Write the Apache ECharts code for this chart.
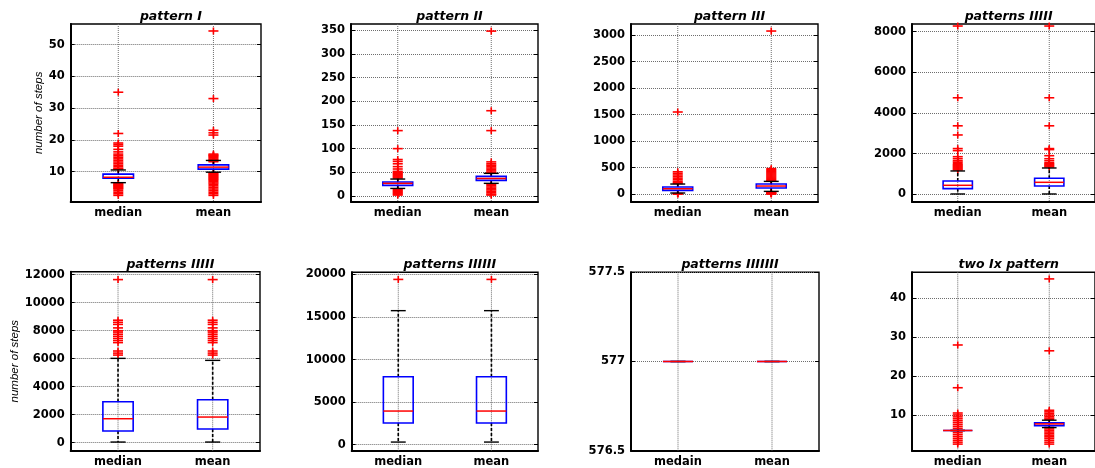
<!DOCTYPE html>
<html>
<head>
<meta charset="utf-8">
<script src="https://cdn.jsdelivr.net/npm/echarts@6/dist/echarts.min.js"></script>
<style>
  html, body { margin: 0; padding: 0; background: #ffffff; }
  #chart { width: 1095px; height: 468px; }
</style>
</head>
<body>
<div id="chart"></div>
<script>
// ---- panel titles and category names ----
const panelTitles = ['pattern I', 'pattern II', 'pattern III', 'patterns IIIII',
                     'patterns IIIII', 'patterns IIIIII', 'patterns IIIIIII', 'two Ix pattern'];
const categories = ['median', 'mean'];
const categoriesTypo = ['medain', 'mean'];

// ---- box statistics: [lower whisker, Q1, median, Q3, upper whisker] for median / mean ----
const boxP1 = [[6.5, 7.9, 8.2, 9.2, 10.5], [9.8, 10.75, 11.4, 12.1, 13.5]];
const boxP2 = [[16, 22.5, 26.7, 29.5, 35.8], [26.7, 33, 37, 41.5, 47.8]];
const boxP3 = [[19, 69, 100, 132, 189], [50, 113, 151, 189, 239]];
const boxP4 = [[16, 279, 443, 656, 1148], [16, 410, 590, 787, 1295]];
const boxP5 = [[48, 833, 1714, 2929, 6024], [48, 976, 1833, 3071, 5881]];
const boxP6 = [[313, 2544, 3953, 7984, 15734], [313, 2544, 3953, 7984, 15734]];
const boxP7 = [[577, 577, 577, 577, 577], [577, 577, 577, 577, 577]];
const boxP8 = [[6, 6, 6, 6, 6], [6.75, 7.25, 7.7, 8.0, 8.65]];

// ---- outliers ----
const outP1Median = [35, 22, 19, 18.5, 18, 17, 16.2, 15.5, 15, 14.5, 14, 13.5, 13, 12.5, 12, 11.5, 11, 10.8,
                     6.2, 6, 5.7, 5.5, 5.2, 5, 4.7, 4.5, 4, 3.5, 3, 2.5];
const outP1Mean = [54.3, 33, 23, 22.2, 21.5, 15.5, 15.2, 15, 14.7, 14.4, 14, 13.7, 13.4, 13.1,
                   9.6, 9.3, 9, 8.7, 8.4, 8.1, 7.8, 7.5, 7.2, 6.8, 6.4, 6, 5.5, 5, 4.5, 4, 3.5, 3, 2.5];
const outP2Median = [138, 100, 77, 73, 68, 62, 57, 52, 50, 48, 46, 44, 42, 40, 38,
                     14, 12, 10, 8, 6, 4, 2];
const outP2Mean = [348, 180, 138, 72, 68, 65, 62, 59, 56, 53, 50, 49,
                   25, 22, 19, 16, 13, 10, 7, 4, 2];
const outP3Median = [1550, 420, 390, 360, 330, 300, 270, 240, 215, 200, 8, 3, 0];
const outP3Mean = [3080, 480, 460, 440, 420, 400, 380, 360, 340, 320, 300, 280, 260, 250,
                   40, 30, 20, 10, 5, 0];
const outP4Median = [8280, 4750, 3370, 2920, 2250, 2150, 1850, 1750, 1650, 1580, 1500, 1450, 1400, 1350, 1300, 1250, 1200];
const outP4Mean = [8280, 4750, 3370, 2250, 2200, 1900, 1750, 1650, 1550, 1500, 1450, 1400, 1350];
const outP5Median = [11650, 8750, 8600, 8450, 8200, 8000, 7900, 7750, 7600, 7450, 7300, 7150, 6550, 6400, 6260];
const outP5Mean = [11650, 8750, 8600, 8450, 8200, 8000, 7900, 7750, 7600, 7450, 7300, 7150, 6550, 6400, 6260];
const outP6Median = [19400];
const outP6Mean = [19400];
const outP7Median = [];
const outP7Mean = [];
const outP8Median = [28, 17, 10.5, 10, 9.5, 9, 8.5, 8, 7.5, 7, 6.5, 5.5, 5, 4.5, 4, 3.5, 3, 2.5];
const outP8Mean = [45, 26.5, 11.2, 10.8, 10.4, 10, 9.6, 9.2, 8.9,
                   6.8, 6.4, 6, 5.6, 5.2, 4.8, 4.4, 4, 3.5, 3, 2.5];

// ---- y tick labels ----
const ticksP1 = [10, 20, 30, 40, 50];
const ticksP2 = [0, 50, 100, 150, 200, 250, 300, 350];
const ticksP3 = [0, 500, 1000, 1500, 2000, 2500, 3000];
const ticksP4 = [0, 2000, 4000, 6000, 8000];
const ticksP5 = [0, 2000, 4000, 6000, 8000, 10000, 12000];
const ticksP6 = [0, 5000, 10000, 15000, 20000];
const ticksP7 = [576.5, 577, 577.5];
const ticksP8 = [10, 20, 30, 40];

const yName = 'number of steps';

// ---- panel assembly ----
const panels = [
  { box: boxP1, out: [outP1Median, outP1Mean], ticks: ticksP1, cats: categories },
  { box: boxP2, out: [outP2Median, outP2Mean], ticks: ticksP2, cats: categories },
  { box: boxP3, out: [outP3Median, outP3Mean], ticks: ticksP3, cats: categories },
  { box: boxP4, out: [outP4Median, outP4Mean], ticks: ticksP4, cats: categories },
  { box: boxP5, out: [outP5Median, outP5Mean], ticks: ticksP5, cats: categories },
  { box: boxP6, out: [outP6Median, outP6Mean], ticks: ticksP6, cats: categories },
  { box: boxP7, out: [outP7Median, outP7Mean], ticks: ticksP7, cats: categoriesTypo },
  { box: boxP8, out: [outP8Median, outP8Mean], ticks: ticksP8, cats: categories }
];

// Grid placement (px) and axis extents for each panel
const layouts = [
  { left: 70.7, top: 24,    width: 190.3, height: 177.7, min: 0.5,   max: 56.5,  nameGap: 26 },
  { left: 351,  top: 24,    width: 187,   height: 177.7, min: -12,   max: 363 },
  { left: 631,  top: 24,    width: 187,   height: 177.7, min: -145,  max: 3213 },
  { left: 912,  top: 24,    width: 187.2, height: 177.7, min: -364,  max: 8380 },
  { left: 70.7, top: 271.7, width: 189.3, height: 179,   min: -570,  max: 12214, nameGap: 50 },
  { left: 351.7,top: 272.3, width: 186.3, height: 178.4, min: -700,  max: 20235 },
  { left: 631,  top: 272.3, width: 188,   height: 178.4, min: 576.5, max: 577.5 },
  { left: 912,  top: 272.3, width: 187.6, height: 178.4, min: 0.8,   max: 46.7 }
];

const boldFont = 'DejaVu Sans';
const gridColor = '#6e6e6e';
const grids = [], xAxes = [], yAxes = [], titles = [], series = [];

function renderVGrid(params, api) {
  const cs = params.coordSys;
  const x = api.coord([api.value(0), 0])[0];
  return {
    type: 'line',
    shape: { x1: x, y1: cs.y, x2: x, y2: cs.y + cs.height },
    style: { stroke: gridColor, lineWidth: 1, lineDash: [1, 1] }
  };
}

function renderPlus(params, api) {
  const p = api.coord([api.value(0), api.value(1)]);
  const st = { stroke: '#ff0000', lineWidth: 1.6 };
  return {
    type: 'group',
    children: [
      { type: 'line', shape: { x1: p[0] - 5, y1: p[1], x2: p[0] + 5, y2: p[1] }, style: st },
      { type: 'line', shape: { x1: p[0], y1: p[1] - 3.5, x2: p[0], y2: p[1] + 3.5 }, style: st }
    ]
  };
}

function renderBox(params, api) {
  const c = api.value(0);
  const lo = api.coord([c, api.value(1)]);
  const q1 = api.coord([c, api.value(2)]);
  const md = api.coord([c, api.value(3)]);
  const q3 = api.coord([c, api.value(4)]);
  const hi = api.coord([c, api.value(5)]);
  const cx = lo[0];
  const band = api.size([1, 0])[0];
  const bw = band * 0.32;
  const cw = band * 0.16;
  const dash = { stroke: '#000000', lineWidth: 1.6, lineDash: [3, 2] };
  const solid = { stroke: '#000000', lineWidth: 1.4 };
  return {
    type: 'group',
    children: [
      { type: 'line', shape: { x1: cx, y1: q3[1], x2: cx, y2: hi[1] }, style: dash },
      { type: 'line', shape: { x1: cx, y1: q1[1], x2: cx, y2: lo[1] }, style: dash },
      { type: 'line', shape: { x1: cx - cw / 2, y1: hi[1], x2: cx + cw / 2, y2: hi[1] }, style: solid },
      { type: 'line', shape: { x1: cx - cw / 2, y1: lo[1], x2: cx + cw / 2, y2: lo[1] }, style: solid },
      { type: 'rect', shape: { x: cx - bw / 2, y: q3[1], width: bw, height: q1[1] - q3[1] },
        style: { stroke: '#0000ff', lineWidth: 1.6, fill: null } },
      { type: 'line', shape: { x1: cx - bw / 2, y1: md[1], x2: cx + bw / 2, y2: md[1] },
        style: { stroke: '#ff0000', lineWidth: 1.5 } }
    ]
  };
}

panels.forEach((pn, i) => {
  const L = layouts[i];
  grids.push({ left: L.left, top: L.top, width: L.width, height: L.height,
               show: true, borderColor: '#000000', borderWidth: 1.4, backgroundColor: '#ffffff' });

  xAxes.push({
    type: 'category', gridIndex: i, data: pn.cats, boundaryGap: true, position: 'bottom',
    axisLine: { onZero: false, lineStyle: { color: '#000000', width: 2 } },
    axisTick: { inside: true, alignWithLabel: true, length: 4, lineStyle: { color: '#000000' } },
    axisLabel: { color: '#000000', fontFamily: boldFont, fontWeight: 'bold', fontSize: 11.5, margin: 5 },
    splitLine: { show: false }
  });

  const yAx = {
    type: 'value', gridIndex: i, position: 'left', min: L.min, max: L.max,
    axisLine: { show: true, onZero: false, lineStyle: { color: '#000000', width: 2 } },
    axisTick: { show: true, inside: true, length: 4, customValues: pn.ticks, lineStyle: { color: '#000000' } },
    axisLabel: { customValues: pn.ticks, formatter: v => String(v), color: '#000000',
                 fontFamily: boldFont, fontWeight: 'bold', fontSize: 11.5, margin: 6 },
    splitLine: { show: true, lineStyle: { color: gridColor, width: 1, type: [1, 1] } }
  };
  if (L.nameGap) {
    yAx.name = yName;
    yAx.nameLocation = 'middle';
    yAx.nameRotate = 90;
    yAx.nameGap = L.nameGap;
    yAx.nameTextStyle = { fontFamily: 'Liberation Sans', fontStyle: 'italic', fontSize: 11.5, color: '#000000' };
  }
  yAxes.push(yAx);

  titles.push({
    text: panelTitles[i],
    left: L.left + L.width / 2 - (i % 4 === 3 ? 2 : 0),
    top: i < 4 ? 5 : 253,
    textAlign: 'center',
    textStyle: { fontFamily: boldFont, fontStyle: 'italic', fontWeight: 'bold', fontSize: 12.5, color: '#000000' }
  });

  series.push({
    type: 'custom', xAxisIndex: i, yAxisIndex: i, silent: true,
    renderItem: renderVGrid, data: [[0], [1]]
  });
  const outData = [];
  pn.out.forEach((list, k) => list.forEach(v => outData.push([k, v])));
  series.push({
    type: 'custom', xAxisIndex: i, yAxisIndex: i, silent: true,
    renderItem: renderPlus, data: outData
  });
  series.push({
    type: 'custom', xAxisIndex: i, yAxisIndex: i, silent: true,
    renderItem: renderBox, data: pn.box.map((b, k) => [k].concat(b))
  });
});

// right-hand tick marks on every panel
panels.forEach((pn, i) => {
  const L = layouts[i];
  yAxes.push({
    type: 'value', gridIndex: i, position: 'right', min: L.min, max: L.max,
    axisLine: { show: false },
    axisTick: { show: true, inside: true, length: 4, customValues: pn.ticks, lineStyle: { color: '#000000' } },
    axisLabel: { show: false },
    splitLine: { show: false }
  });
});

const chart = echarts.init(document.getElementById('chart'), null, { renderer: 'canvas' });
chart.setOption({
  backgroundColor: '#ffffff',
  animation: false,
  title: titles,
  grid: grids,
  xAxis: xAxes,
  yAxis: yAxes,
  series: series
});
</script>
</body>
</html>
